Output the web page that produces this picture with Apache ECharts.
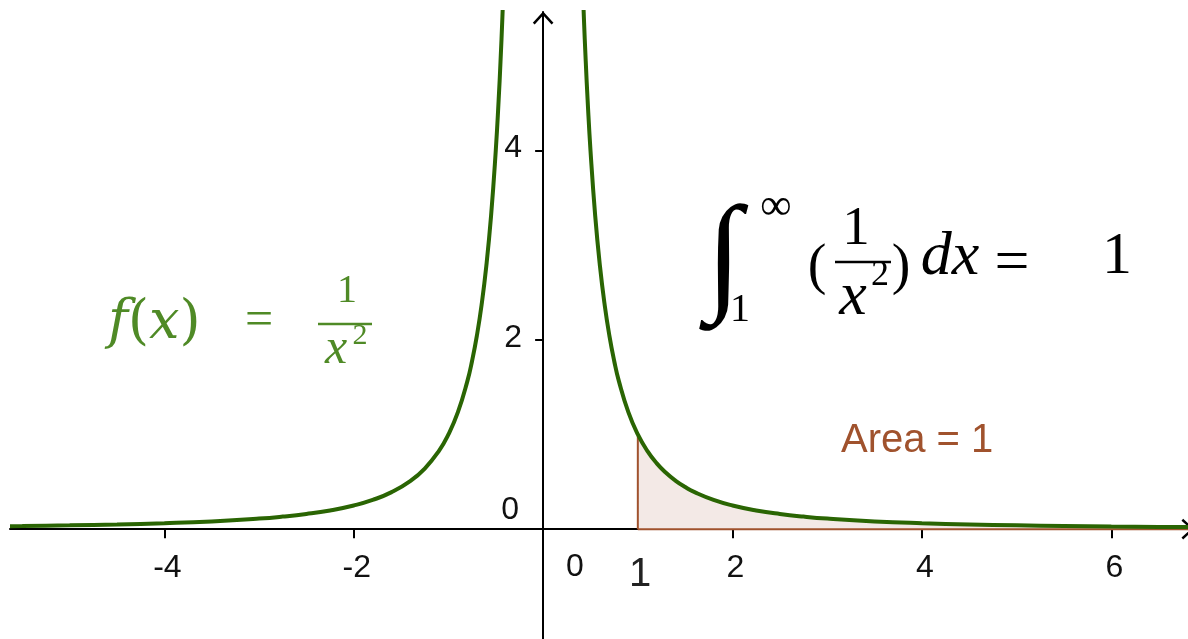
<!DOCTYPE html>
<html>
<head>
<meta charset="utf-8">
<script src="https://cdn.jsdelivr.net/npm/echarts@6/dist/echarts.min.js"></script>
<style>
  html, body { margin: 0; padding: 0; background: #fff; }
  #chart { width: 1188px; height: 639px; }
</style>
</head>
<body>
<div id="chart"></div>
<script>
// f(x) = 1/x^2, points
const leftX = [-5.63, -5.5, -5, -4.5, -4, -3.5, -3, -2.75, -2.5, -2.25, -2, -1.8, -1.6, -1.4, -1.25, -1.1, -1, -0.9, -0.8, -0.75, -0.7, -0.65, -0.6, -0.55, -0.5, -0.47, -0.45, -0.43, -0.41]
const leftY = [0.0316, 0.0331, 0.04, 0.0494, 0.0625, 0.0816, 0.1111, 0.1322, 0.16, 0.1975, 0.25, 0.3086, 0.3906, 0.5102, 0.64, 0.8264, 1, 1.2346, 1.5625, 1.7778, 2.0408, 2.3669, 2.7778, 3.3058, 4, 4.5269, 4.9383, 5.4083, 5.9488]
const rightX = [0.41, 0.43, 0.45, 0.47, 0.5, 0.55, 0.6, 0.65, 0.7, 0.75, 0.8, 0.9, 1, 1.1, 1.2, 1.3, 1.4, 1.5, 1.6, 1.8, 2, 2.25, 2.5, 2.75, 3, 3.5, 4, 4.5, 5, 5.5, 6, 6.5, 6.81]
const rightY = [5.9488, 5.4083, 4.9383, 4.5269, 4, 3.3058, 2.7778, 2.3669, 2.0408, 1.7778, 1.5625, 1.2346, 1, 0.8264, 0.6944, 0.5917, 0.5102, 0.4444, 0.3906, 0.3086, 0.25, 0.1975, 0.16, 0.1322, 0.1111, 0.0816, 0.0625, 0.0494, 0.04, 0.0331, 0.0278, 0.0237, 0.0216]

const xTicks = [-4, -2, 2, 4, 6]
const yTicks = [2, 4]
const areaStart = 1
const areaEnd = 6.81

const toPairs = (xs, ys) => xs.map((x, i) => [x, ys[i]])
const leftData = toPairs(leftX, leftY)
const rightData = toPairs(rightX, rightY)
// shaded region under the curve from x = 1
const areaData = [[areaStart, 0]].concat(rightData.filter(p => p[0] >= areaStart))

const green = '#2a6503'
const textGreen = '#4f8a26'
const brown = '#a0522d'
const serif = '"Liberation Serif", "DejaVu Serif", serif'
const sans = '"Liberation Sans", Arial, sans-serif'

const arrow = 'path://M0,11 L10,0 L20,11 L18.2,12.6 L10,3.6 L1.8,12.6 Z'

const chart = echarts.init(document.getElementById('chart'))

const txt = (text, x, y, font, fill, align) => ({
  type: 'text', z: 100,
  style: { text, x, y, font, fill: fill || '#000', align: align || 'center', verticalAlign: 'middle' }
})
const bar = (x1, x2, y, color) => ({
  type: 'line', z: 100,
  shape: { x1, y1: y, x2, y2: y },
  style: { stroke: color, lineWidth: 2.5 }
})

// tick labels hang off invisible points on the axes
const labelSeries = (data, position, offset) => ({
  type: 'scatter',
  data,
  symbolSize: 0,
  silent: true,
  clip: false,
  z: 5,
  label: {
    show: true,
    position,
    offset,
    formatter: p => String(p.value[position === 'left' ? 1 : 0]),
    fontSize: 32,
    fontFamily: sans,
    color: '#111',
    opacity: 1
  }
})

const option = {
  animation: false,
  backgroundColor: '#fff',
  grid: { left: 10, right: 0, top: 12, bottom: 0, containLabel: false, outerBoundsMode: 'none' },
  xAxis: {
    type: 'value',
    min: -5.63,
    max: 6.81,
    splitLine: { show: false },
    axisLine: {
      onZero: true,
      symbol: ['none', arrow],
      symbolSize: [24, 13],
      lineStyle: { color: '#000', width: 2 }
    },
    axisTick: { show: true, length: 9, lineStyle: { color: '#000', width: 2 }, customValues: xTicks },
    axisLabel: { show: false }
  },
  yAxis: {
    type: 'value',
    min: -1.16,
    max: 5.46,
    splitLine: { show: false },
    axisLine: {
      onZero: true,
      symbol: ['none', arrow],
      symbolSize: [24, 13],
      symbolOffset: [0, -6],
      lineStyle: { color: '#000', width: 2 }
    },
    axisTick: { show: true, length: 8, lineStyle: { color: '#000', width: 2 }, customValues: yTicks },
    axisLabel: { show: false }
  },
  series: [
    {
      name: 'area',
      type: 'line',
      data: areaData,
      symbol: 'none',
      z: 2,
      lineStyle: { color: brown, width: 2 },
      areaStyle: { color: '#f3e9e6', opacity: 1 }
    },
    {
      name: 'base',
      type: 'line',
      data: [[areaStart, 0], [areaEnd, 0]],
      symbol: 'none',
      z: 3,
      lineStyle: { color: brown, width: 2 }
    },
    {
      name: 'left',
      type: 'line',
      data: leftData,
      symbol: 'none',
      smooth: true,
      z: 4,
      lineStyle: { color: green, width: 4 }
    },
    {
      name: 'right',
      type: 'line',
      data: rightData,
      symbol: 'none',
      smooth: true,
      z: 4,
      lineStyle: { color: green, width: 4 }
    },
    labelSeries(xTicks.map(v => [v, 0]), 'bottom', [3, 18]),
    labelSeries(yTicks.map(v => [0, v]), 'left', [-16, -2])
  ],
  graphic: [
    // labels at the origin and at x = 1
    txt('0', 519, 510, '32px ' + sans, '#111', 'right'),
    txt('0', 575, 567, '32px ' + sans, '#111'),
    txt('1', 640, 575, '40px ' + sans, '#222'),
    // f(x) = 1 / x^2
    {
      type: 'text', z: 100,
      style: {
        text: '{i|f}{n|(}{i|x}{n|)}', x: 108, y: 324, verticalAlign: 'middle', fill: textGreen,
        rich: {
          i: { font: 'italic 54px "DejaVu Serif", serif', fill: textGreen },
          n: { font: '54px "DejaVu Serif", serif', fill: textGreen }
        }
      }
    },
    txt('=', 259, 322, '50px ' + serif, textGreen),
    txt('1', 347, 291, '40px ' + serif, textGreen),
    bar(318, 372, 324, textGreen),
    txt('x', 336, 350, 'italic 50px ' + serif, textGreen),
    txt('2', 360, 336, '30px ' + serif, textGreen),
    // integral
    txt('\u222B', 724, 262, 'italic 130px ' + serif, '#000'),
    txt('\u221E', 776, 207, '44px ' + serif, '#000'),
    txt('1', 740, 310, '40px ' + serif, '#000'),
    txt('(', 817, 268, '56px ' + serif, '#000'),
    txt('1', 856, 230, '55px ' + serif, '#000'),
    bar(835, 891, 262, '#000'),
    txt('x', 853, 298, 'italic 62px ' + serif, '#000'),
    txt('2', 880, 276, '36px ' + serif, '#000'),
    txt(')', 901, 268, '56px ' + serif, '#000'),
    txt('dx', 950, 258, 'italic 62px ' + serif, '#000'),
    txt('=', 1012, 265, '62px ' + serif, '#000'),
    txt('1', 1117, 257, '60px ' + serif, '#000'),
    // area label
    txt('Area = 1', 841, 441, '40px ' + sans, brown, 'left')
  ]
}

chart.setOption(option)
window.addEventListener('resize', () => chart.resize())
</script>
</body>
</html>
